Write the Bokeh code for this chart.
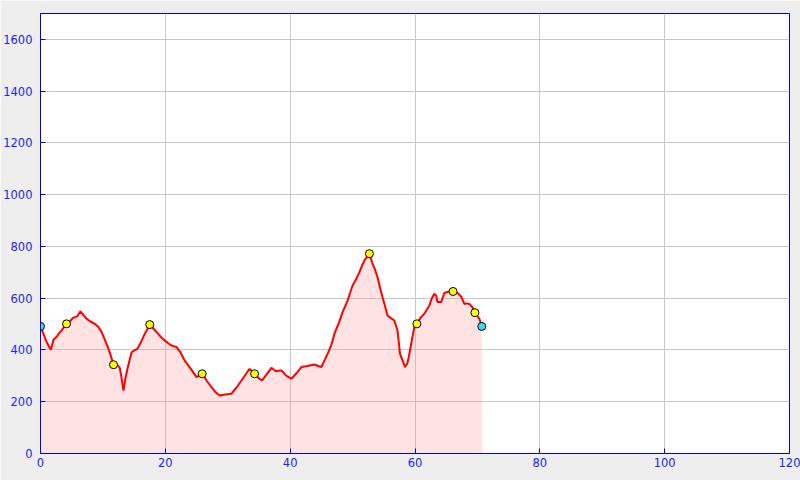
from bokeh.plotting import figure
from bokeh.models import Range1d, FixedTicker
from bokeh.embed import file_html
from bokeh.resources import INLINE

# Distance (km) and elevation (m) of the profile
dist = [0.0, 0.5, 1.0, 1.65, 2.1, 2.56, 3.0, 3.36, 4.17, 4.7, 5.2, 5.9, 6.4, 6.9, 7.4, 8.0, 8.7, 9.3,
        9.8, 10.3, 10.8, 11.3, 11.7, 12.2, 12.7, 13.0, 13.3, 13.6, 14.0, 14.6, 15.0, 15.5, 16.1, 16.7,
        17.5, 18.0, 18.6, 19.3, 19.9, 20.5, 21.0, 21.8, 22.4, 23.1, 24.0, 25.0, 25.9, 26.6, 27.4,
        28.0, 28.7, 29.6, 30.6, 31.4, 32.2, 33.0, 33.5, 34.3, 35.0, 35.5, 36.2, 37.0, 37.7, 38.3,
        38.6, 39.4, 40.2, 41.0, 41.8, 42.8, 43.9, 44.5, 45.0, 45.5, 46.0, 46.6, 47.1, 47.8, 48.4,
        49.2, 50.0, 50.5, 51.1, 51.5, 51.9, 52.7, 53.2, 53.6, 54.0, 54.4, 54.8, 55.2, 55.6, 56.2,
        56.7, 57.2, 57.4, 57.6, 58.0, 58.4, 58.8, 59.1, 59.5, 59.9, 60.3, 60.9, 61.5, 62.3, 62.7,
        63.1, 63.4, 63.6, 64.2, 64.7, 65.3, 66.1, 66.8, 67.4, 67.9, 68.3, 68.7, 69.2, 69.6, 70.0,
        70.3, 70.7]
elev = [491, 460, 430, 401, 440, 450, 465, 475, 501, 510, 524, 530, 549, 535, 520, 510, 501, 488,
        469, 440, 411, 375, 343, 345, 331, 290, 243, 290, 334, 391, 398, 404, 430, 462,
        498, 485, 469, 450, 437, 425, 417, 411, 392, 359, 330, 295, 308, 282, 256,
        238, 224, 228, 231, 255, 282, 310, 327, 308, 290, 282, 305, 331, 318, 321,
        321, 300, 289, 310, 334, 338, 344, 338, 334, 360, 385, 420, 463, 505, 546,
        591, 649, 670, 701, 725, 746, 772, 733, 710, 681, 640, 604, 570, 533, 522,
        514, 475, 430, 385, 360, 334, 350, 385, 440, 488, 501, 525, 540, 572, 600,
        617, 610, 585, 585, 620, 625, 626, 620, 607, 578, 580, 578, 565, 544, 530,
        521, 491]

# Waypoint markers
way_x = [4.17, 11.7, 17.5, 25.9, 34.3, 52.7, 60.3, 66.1, 69.6]
way_y = [501, 343, 498, 308, 308, 772, 501, 626, 544]
end_x = [0.0, 70.7]
end_y = [491, 491]

x_ticks = [0, 20, 40, 60, 80, 100, 120]
y_ticks = [0, 200, 400, 600, 800, 1000, 1200, 1400, 1600]

p = figure(width=800, height=480, output_backend="svg", toolbar_location=None,
           x_range=Range1d(0, 120), y_range=Range1d(0, 1700),
           min_border_left=39, min_border_right=11, min_border_top=13, min_border_bottom=27)
p.border_fill_color = "#eeeeee"
p.background_fill_color = "white"
p.outline_line_color = "#0000ee"
p.outline_line_width = 1

p.xaxis.ticker = FixedTicker(ticks=x_ticks)
p.yaxis.ticker = FixedTicker(ticks=y_ticks)
for ax in (p.xaxis[0], p.yaxis[0]):
    ax.axis_line_color = "#0000ee"
    ax.major_tick_line_color = "#0000ee"
    ax.major_tick_in = 5
    ax.major_tick_out = 0
    ax.minor_tick_line_color = None
    ax.major_label_text_color = "#2222ff"
    ax.major_label_text_font = "DejaVu Sans"
    ax.major_label_text_font_size = "11.5px"
p.xaxis.major_label_standoff = 4
p.yaxis.major_label_standoff = 8

p.xgrid.grid_line_color = "#c8c8c8"
p.ygrid.grid_line_color = "#c8c8c8"

p.varea(x=dist, y1=[0] * len(dist), y2=elev, fill_color="#ff9999", fill_alpha=0.28)
p.line(dist, elev, line_color="red", line_width=2)
p.scatter(way_x, way_y, size=8, fill_color="#ffff00", line_color="black", line_width=1)
p.scatter(end_x, end_y, size=8, fill_color="#33ddee", line_color="black", line_width=1)

open("out.html", "w").write(file_html(p, INLINE))
